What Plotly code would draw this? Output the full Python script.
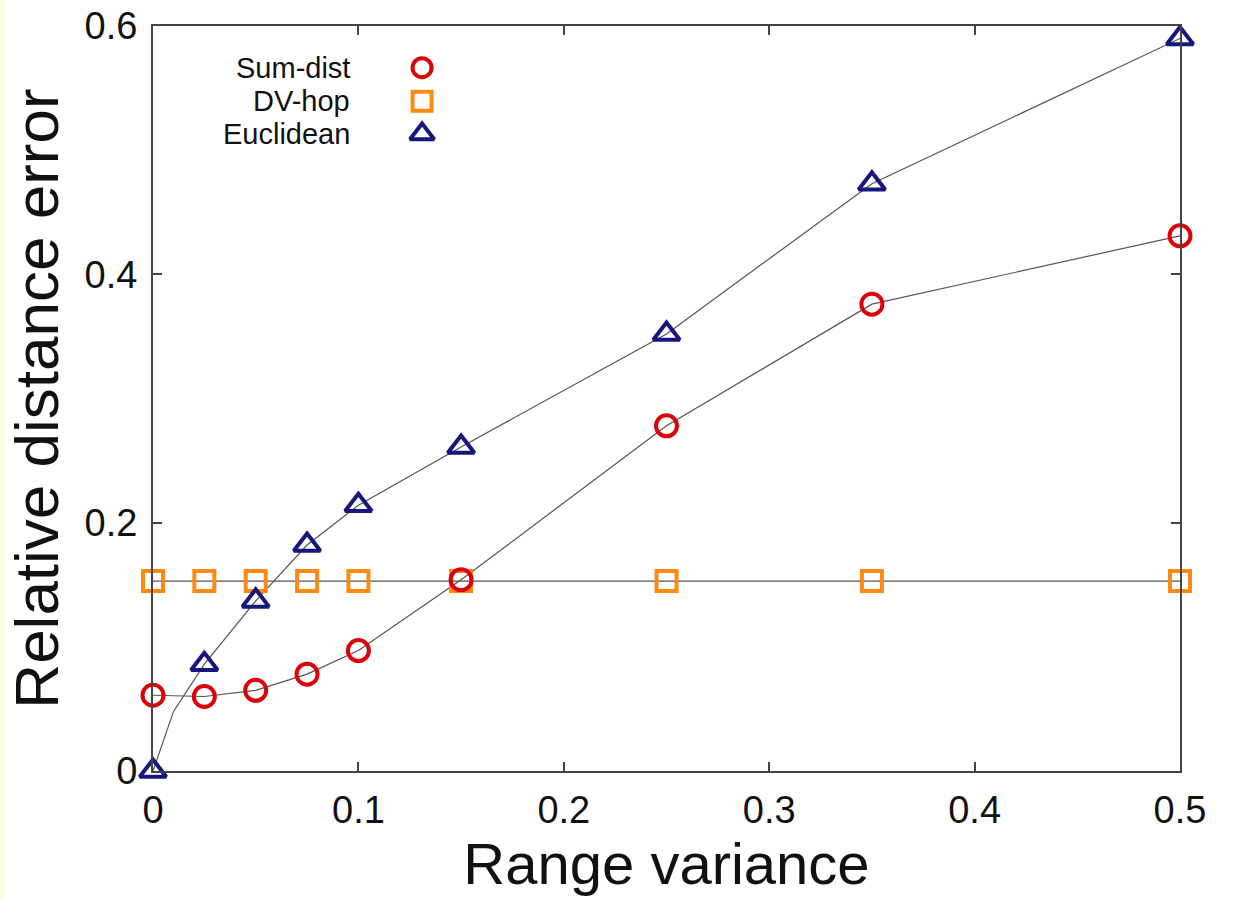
import plotly.graph_objects as go

# Range variance (x) values shared by all three methods
range_variance = [0, 0.025, 0.05, 0.075, 0.1, 0.15, 0.25, 0.35, 0.5]

# Relative distance error per method
sum_dist = [0.061, 0.060, 0.065, 0.078, 0.097, 0.154, 0.278, 0.376, 0.431]
dv_hop = [0.153, 0.153, 0.153, 0.153, 0.153, 0.153, 0.153, 0.153, 0.153]
euclidean = [0.0, 0.086, 0.137, 0.182, 0.214, 0.261, 0.352, 0.473, 0.590]

# Euclidean connecting curve has one extra bend near the origin
euclid_curve_x = [0, 0.01, 0.025, 0.05, 0.075, 0.1, 0.15, 0.25, 0.35, 0.5]
euclid_curve_y = [0.0, 0.048, 0.086, 0.137, 0.182, 0.214, 0.261, 0.352, 0.473, 0.590]

x_ticks = [0, 0.1, 0.2, 0.3, 0.4, 0.5]
x_tick_text = ["0", "0.1", "0.2", "0.3", "0.4", "0.5"]
y_ticks = [0, 0.2, 0.4, 0.6]
y_tick_text = ["0", "0.2", "0.4", "0.6"]

legend_names = ["Sum-dist", "DV-hop", "Euclidean"]

RED = "#dd0008"
ORANGE = "#ff8a12"
NAVY = "#16167f"
LINE = "#555555"
FONT = "Liberation Sans, Arial, Helvetica, sans-serif"

fig = go.Figure()

# connecting lines
fig.add_trace(go.Scatter(x=range_variance, y=dv_hop, mode="lines",
                         line=dict(color=LINE, width=1.2), showlegend=False,
                         hoverinfo="skip", cliponaxis=False))
fig.add_trace(go.Scatter(x=range_variance, y=sum_dist, mode="lines",
                         line=dict(color=LINE, width=1.2), showlegend=False,
                         hoverinfo="skip", cliponaxis=False))
fig.add_trace(go.Scatter(x=euclid_curve_x, y=euclid_curve_y, mode="lines",
                         line=dict(color=LINE, width=1.2), showlegend=False,
                         hoverinfo="skip", cliponaxis=False))

# markers
fig.add_trace(go.Scatter(x=range_variance, y=dv_hop, mode="markers", name=legend_names[1],
                         marker=dict(symbol="square-open", size=20, color=ORANGE,
                                     line=dict(width=4, color=ORANGE)),
                         showlegend=False, cliponaxis=False))
fig.add_trace(go.Scatter(x=range_variance, y=sum_dist, mode="markers", name=legend_names[0],
                         marker=dict(symbol="circle-open", size=21, color=RED,
                                     line=dict(width=4, color=RED)),
                         showlegend=False, cliponaxis=False))
fig.add_trace(go.Scatter(x=range_variance, y=euclidean, mode="markers", name=legend_names[2],
                         marker=dict(symbol="triangle-up-open", size=23, color=NAVY,
                                     line=dict(width=4, color=NAVY)),
                         showlegend=False, cliponaxis=False))

# in-plot key: text on the left, symbol on the right
key_symbols = ["circle-open", "square-open", "triangle-up-open"]
key_colors = [RED, ORANGE, NAVY]
key_sizes = [19, 19, 21]
key_y = [0.944, 0.899, 0.855]
key_sym_x = 0.262
key_text_x = 0.194
for name, sym, col, sz, ky in zip(legend_names, key_symbols, key_colors, key_sizes, key_y):
    fig.add_trace(go.Scatter(x=[key_sym_x], y=[ky], mode="markers", xaxis="x2", yaxis="y2",
                             marker=dict(symbol=sym, size=sz, color=col,
                                         line=dict(width=4, color=col)),
                             showlegend=False, hoverinfo="skip", cliponaxis=False))
    fig.add_annotation(x=key_text_x, y=ky, xref="paper", yref="paper", text=name,
                       showarrow=False, xanchor="right", yanchor="middle",
                       font=dict(size=29, color="#111111", family=FONT))

axis_common = dict(showline=True, linecolor="#444444", linewidth=2, mirror="ticks",
                   ticks="inside", ticklen=9, tickwidth=1.5, tickcolor="#444444",
                   showgrid=False, zeroline=False, automargin=False,
                   ticklabeloverflow="allow",
                   tickfont=dict(size=38, color="#111111", family=FONT))

fig.update_layout(
    width=1236, height=899,
    margin=dict(l=153, r=56, t=26, b=128),
    paper_bgcolor="white", plot_bgcolor="white",
    font=dict(family=FONT),
    xaxis=dict(range=[0, 0.5], tickvals=x_ticks, ticktext=x_tick_text,
               title=dict(text="Range variance", font=dict(size=58, color="#111111", family=FONT),
                          standoff=8),
               ticklabelstandoff=4,
               **axis_common),
    yaxis=dict(range=[0, 0.6], tickvals=y_ticks, ticktext=y_tick_text,
               title=dict(text="Relative distance error", font=dict(size=62, color="#111111", family=FONT),
                          standoff=6),
               ticklabelstandoff=6,
               **axis_common),
    xaxis2=dict(range=[0, 1], overlaying="x", visible=False),
    yaxis2=dict(range=[0, 1], overlaying="y", visible=False),
    showlegend=False,
    shapes=[dict(type="rect", xref="paper", yref="paper",
                 x0=-153 / 1027, x1=-148 / 1027, y0=-128 / 745, y1=1 + 26 / 745,
                 fillcolor="#fcfce6", line=dict(width=0), layer="below")],
)

fig.write_html("out.html")
